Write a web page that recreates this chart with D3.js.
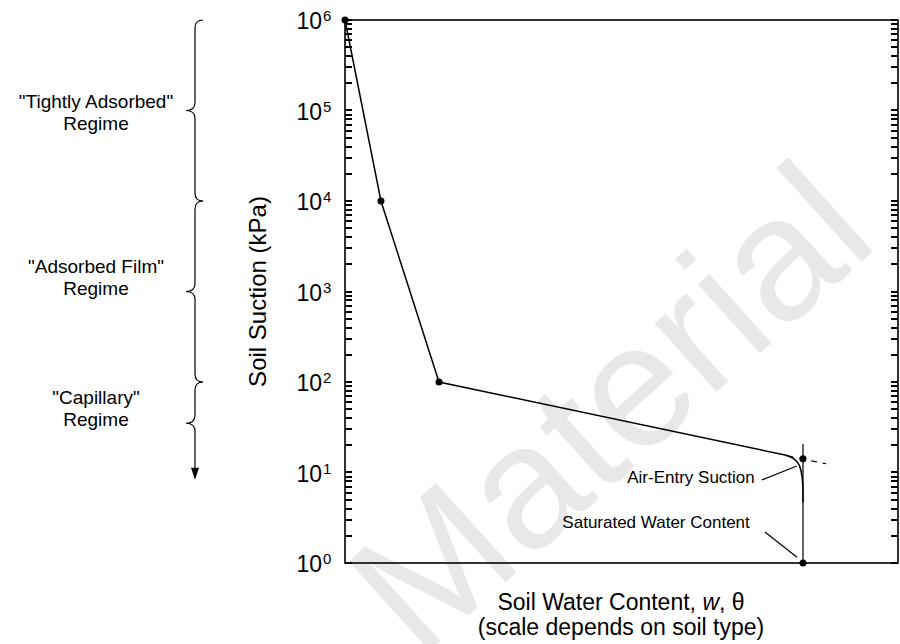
<!DOCTYPE html>
<html>
<head>
<meta charset="utf-8">
<script src="https://cdnjs.cloudflare.com/ajax/libs/d3/7.8.5/d3.min.js"></script>
<style>
  body { margin: 0; background: #fff; }
  svg { display: block; }
  text { font-family: "Liberation Sans", Arial, Helvetica, sans-serif; fill: #000; }
</style>
</head>
<body>
<svg id="chart" width="900" height="644"></svg>
<script>
// water content is unitless here (scale depends on soil type), 0..1 across the box
var waterContent = [0, 0.065, 0.170, 0.787];
var suction      = [1e6, 1e4, 1e2, 16];
// knee around the air-entry point
var kneeWater    = [0.787, 0.8282, 0.8282];
var kneeSuction  = [16, 14.2, 4.7];
// marked points
var pointWater   = [0, 0.065, 0.170, 0.8282, 0.8282];
var pointSuction = [1e6, 1e4, 1e2, 14.2, 1];
// construction lines
var vertWater    = [0.8282, 0.8282];
var vertSuction  = [1, 20.6];
var tanWater     = [0.80, 0.87];
var tanSuction   = [15.2, 12.5];
// y tick labels (powers of ten) and minor steps inside each decade
var exponents  = [0, 1, 2, 3, 4, 5, 6];
var minorSteps = [1, 2, 3, 4, 5, 6, 7, 8, 9];
// regimes on the left
var regimeNames   = ['"Tightly Adsorbed"', '"Adsorbed Film"', '"Capillary"'];
var regimeTop     = [1e6, 1e4, 1e2];
var regimeMid     = [1e5, 1e3, 35];
var regimeBottom  = [1e4, 1e2, 8.3];
var regimeLabelAt = [1.27e5, 1.9e3, 68];
// annotations
var noteText   = ["Air-Entry Suction", "Saturated Water Content"];
var noteAt     = [[0.741, 7.6], [0.732, 2.45]];
var noteFrom   = [[0.754, 8.3], [0.7595, 2.2]];
var noteTo     = [[0.817, 11.8], [0.8174, 1.16]];

var svg = d3.select("#chart");
var mLeft = 345, mRight = 898, mTop = 20, mBottom = 563;

var x = d3.scaleLinear().domain([0, 1]).range([mLeft, mRight]);
var y = d3.scaleLog().domain([1, 1e6]).range([mBottom, mTop]);

// watermark
svg.append("text")
  .attr("transform", "translate(650,452) rotate(-42)")
  .attr("text-anchor", "middle")
  .style("font-size", "175px")
  .style("fill", "#e8e8e8")
  .text("Material");

// frame
svg.append("rect")
  .attr("x", mLeft).attr("y", mTop)
  .attr("width", mRight - mLeft).attr("height", mBottom - mTop)
  .attr("fill", "none").attr("stroke", "#000").attr("stroke-width", 1.6);

// inward ticks on both sides (1..9 per decade)
var tickVals = [];
exponents.forEach(function(e) {
  minorSteps.forEach(function(k) {
    var v = k * Math.pow(10, e);
    if (v <= 1e6) tickVals.push(v);
  });
});
var ty = function(d) { return Math.round(y(d)); };
var tk = svg.append("g")
  .attr("stroke", "#000").attr("stroke-width", 2)
  .attr("shape-rendering", "crispEdges");
tk.selectAll(".tl").data(tickVals).enter().append("line")
  .attr("class", "tl")
  .attr("x1", mLeft).attr("x2", mLeft + 7)
  .attr("y1", ty).attr("y2", ty);
tk.selectAll(".tr").data(tickVals).enter().append("line")
  .attr("class", "tr")
  .attr("x1", mRight).attr("x2", mRight - 7)
  .attr("y1", ty).attr("y2", ty);

// tick labels 10^n
var lab = svg.append("g").selectAll("g").data(exponents).enter().append("g");
lab.append("text")
  .attr("x", 322).attr("y", function(d) { return y(Math.pow(10, d)) + 9; })
  .attr("text-anchor", "end")
  .style("font-size", "23px")
  .text("10");
lab.append("text")
  .attr("x", 323).attr("y", function(d) { return y(Math.pow(10, d)) + 1; })
  .style("font-size", "15px")
  .text(function(d) { return d; });

// axis titles
svg.append("text")
  .attr("transform", "translate(266," + ((mTop + mBottom) / 2) + ") rotate(-90)")
  .attr("text-anchor", "middle")
  .style("font-size", "24px")
  .text("Soil Suction (kPa)");

var xt = svg.append("text").attr("text-anchor", "middle").style("font-size", "23px");
xt.append("tspan").attr("x", 621).attr("y", 610).text("Soil Water Content, ");
xt.append("tspan").style("font-style", "italic").text("w");
xt.append("tspan").text(", \u03b8");
svg.append("text")
  .attr("x", 621).attr("y", 635)
  .attr("text-anchor", "middle")
  .style("font-size", "23px")
  .text("(scale depends on soil type)");

// construction lines
var line = d3.line().x(function(d) { return x(d[0]); }).y(function(d) { return y(d[1]); });

svg.append("path")
  .attr("d", line(d3.zip(vertWater, vertSuction)))
  .attr("fill", "none").attr("stroke", "#000").attr("stroke-width", 1.2);

svg.append("path")
  .attr("d", line(d3.zip(tanWater, tanSuction)))
  .attr("fill", "none").attr("stroke", "#000").attr("stroke-width", 1.2)
  .attr("stroke-dasharray", "6,6");

// the curve
svg.append("path")
  .attr("d", line(d3.zip(waterContent, suction)))
  .attr("fill", "none").attr("stroke", "#000").attr("stroke-width", 1.5);

svg.append("path")
  .attr("d", line.curve(d3.curveBasis)(d3.zip(kneeWater, kneeSuction)))
  .attr("fill", "none").attr("stroke", "#000").attr("stroke-width", 1.5);
line.curve(d3.curveLinear);

svg.append("g").selectAll("circle")
  .data(d3.zip(pointWater, pointSuction))
  .enter().append("circle")
  .attr("cx", function(d) { return x(d[0]); })
  .attr("cy", function(d) { return y(d[1]); })
  .attr("r", 3.5)
  .attr("fill", "#000");

// annotations
noteText.forEach(function(t, i) {
  svg.append("text")
    .attr("x", x(noteAt[i][0])).attr("y", y(noteAt[i][1]))
    .attr("text-anchor", "end")
    .style("font-size", "17px")
    .text(t);
  svg.append("path")
    .attr("d", line([noteFrom[i], noteTo[i]]))
    .attr("stroke", "#000").attr("stroke-width", 1.2);
});

// braces for the regimes
var bx = 195, br = 8;
function brace(y0, ym, y1, half) {
  var p = d3.path();
  p.moveTo(bx + 8, y0);
  p.quadraticCurveTo(bx, y0, bx, y0 + br);
  p.lineTo(bx, ym - br);
  p.quadraticCurveTo(bx, ym, bx - 9, ym);
  p.quadraticCurveTo(bx, ym, bx, ym + br);
  if (half) {
    p.lineTo(bx, y1);
  } else {
    p.lineTo(bx, y1 - br);
    p.quadraticCurveTo(bx, y1, bx + 8, y1);
  }
  return p.toString();
}

regimeNames.forEach(function(name, i) {
  var y0 = y(regimeTop[i]), ym = y(regimeMid[i]), y1 = y(regimeBottom[i]);
  var last = i === regimeNames.length - 1;
  svg.append("path")
    .attr("d", brace(y0, ym, y1 - (last ? 11 : 0), last))
    .attr("fill", "none").attr("stroke", "#000").attr("stroke-width", 1.2);
  if (last) {
    svg.append("path")
      .attr("d", "M" + (bx - 4) + "," + (y1 - 12) + "L" + (bx + 4) + "," + (y1 - 12) + "L" + bx + "," + y1 + "Z")
      .attr("fill", "#000");
  }
  var ly = y(regimeLabelAt[i]) + 7;
  var t = svg.append("text").attr("text-anchor", "middle").style("font-size", "19px");
  t.append("tspan").attr("x", 96).attr("y", ly).text(name);
  t.append("tspan").attr("x", 96).attr("y", ly + 22).text("Regime");
});
</script>
</body>
</html>
